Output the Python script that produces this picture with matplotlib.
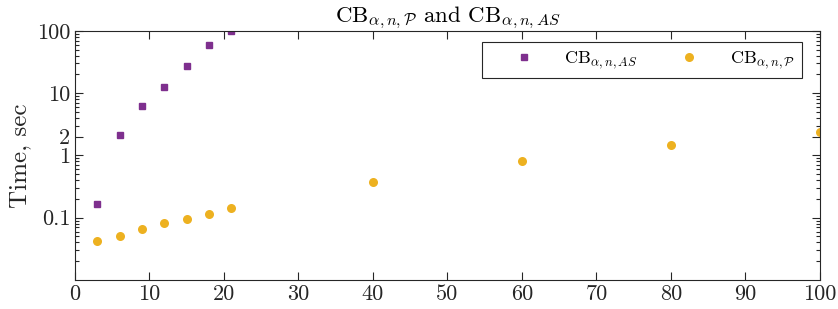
import matplotlib
matplotlib.use("Agg")
import matplotlib.pyplot as plt
import numpy as np
from matplotlib.ticker import LogLocator, NullFormatter

plt.rcParams['font.family'] = 'serif'
plt.rcParams['font.serif'] = ['cmr10']
plt.rcParams['mathtext.fontset'] = 'cm'
plt.rcParams['axes.formatter.use_mathtext'] = True

# data
n_as = [3, 6, 9, 12, 15, 18, 21]
time_as = [0.168, 2.15, 6.2, 12.4, 27.3, 59, 98]
n_p = [3, 6, 9, 12, 15, 18, 21, 40, 60, 80, 100]
time_p = [0.0425, 0.051, 0.066, 0.083, 0.095, 0.115, 0.141, 0.37, 0.80, 1.45, 2.35]
yticks = [0.1, 1, 2, 10, 100]
ytick_labels = ['0.1', '1', '2', '10', '100']
xticks = np.arange(0, 101, 10)

purple = '#7E2F8E'
orange = '#EDB120'
axcol = '#262626'

fig = plt.figure(figsize=(8.38, 3.09), dpi=100)
ax = fig.add_axes([0.0895, 0.094, 0.889, 0.806])

ax.plot(n_as, time_as, 's', color=purple, markersize=4.5, label=r'CB$_{\alpha,n,AS}$')
ax.plot(n_p, time_p, 'o', color=orange, markersize=6.5, markeredgewidth=0, label=r'CB$_{\alpha,n,\mathcal{P}}$')

ax.set_yscale('log')
ax.set_xlim(0, 100)
ax.set_ylim(0.01, 100)
ax.set_xticks(xticks)
ax.set_xticklabels([str(x) for x in xticks])
ax.set_yticks(yticks)
ax.set_yticklabels(ytick_labels)
ax.yaxis.set_minor_locator(LogLocator(base=10, subs=np.arange(2, 10), numticks=20))
ax.yaxis.set_minor_formatter(NullFormatter())
ax.tick_params(which='both', direction='in', top=True, right=True, labelsize=16)
ax.tick_params(which='major', length=5.5, width=0.8, color=axcol, labelcolor=axcol)
ax.tick_params(which='minor', length=3, width=0.8, color=axcol)
for s in ax.spines.values():
    s.set_color(axcol)
    s.set_linewidth(0.8)

ax.set_ylabel('Time, sec', fontsize=18, color=axcol, labelpad=4)
ax.set_title(r'CB$_{\alpha,n,\mathcal{P}}$ and CB$_{\alpha,n,AS}$', fontsize=16.5, color='black', pad=3)

leg = ax.legend(loc='upper right', bbox_to_anchor=(0.9758, 0.9558), borderaxespad=0,
                ncol=2, fontsize=13, fancybox=False, edgecolor=axcol, borderpad=0.4,
                handlelength=3.8, handletextpad=0.33, columnspacing=1.0, framealpha=1)
leg.get_frame().set_linewidth(0.8)

fig.savefig('out.png', dpi=100)
